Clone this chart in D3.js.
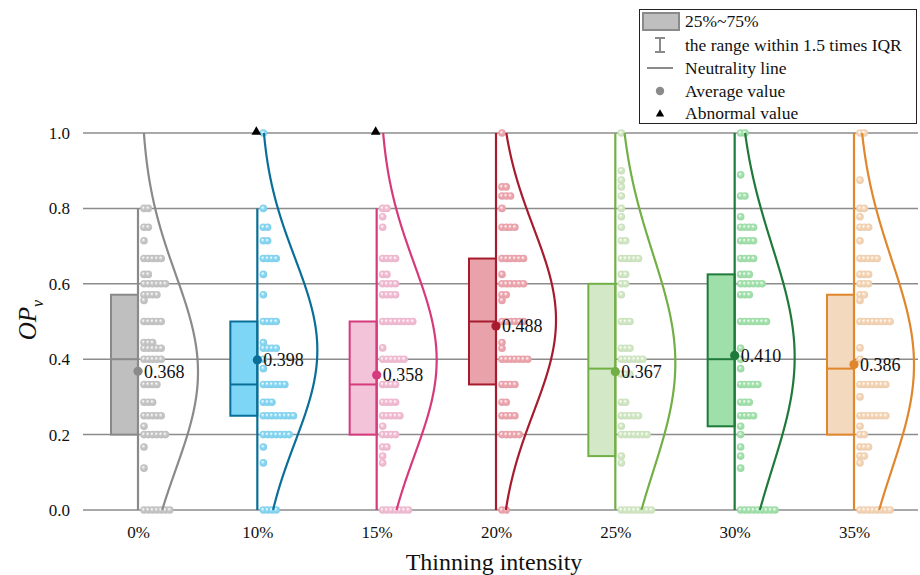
<!DOCTYPE html>
<html>
<head>
<meta charset="utf-8">
<script src="https://cdn.jsdelivr.net/npm/d3@7"></script>
<style>
  html, body { margin: 0; padding: 0; background: #fff; }
  svg, svg text { font-family: "Liberation Serif", "Times New Roman", serif !important; }
</style>
</head>
<body>
<svg id="chart" width="920" height="575"></svg>
<script>
// Thinning intensity groups
const categories = ['0%', '10%', '15%', '20%', '25%', '30%', '35%'];

// Box statistics per group
const means      = [0.368, 0.398, 0.358, 0.488, 0.367, 0.410, 0.386];
const q1         = [0.200, 0.250, 0.200, 0.333, 0.143, 0.222, 0.200];
const medians    = [0.400, 0.333, 0.333, 0.500, 0.375, 0.400, 0.375];
const q3         = [0.571, 0.500, 0.500, 0.667, 0.600, 0.625, 0.571];
const whiskerLow = [0, 0, 0, 0, 0, 0, 0];
const whiskerHigh = [0.8, 0.8, 0.8, 1.0, 1.0, 1.0, 1.0];
const outliers   = [[], [1.0], [1.0], [], [], [], []];

// Normal fit parameters for the distribution curves
const fitMu    = [0.366, 0.424, 0.398, 0.504, 0.390, 0.405, 0.385];
const fitSigma = [0.260, 0.245, 0.255, 0.245, 0.290, 0.295, 0.280];

// Observed OPv values per group as [value, count]
const observations = [
  [[0.8,2],[0.75,2],[0.714,1],[0.667,5],[0.625,2],[0.6,6],[0.571,4],[0.556,1],[0.5,5],[0.444,3],[0.429,5],[0.4,5],[0.333,4],[0.286,3],[0.25,5],[0.222,1],[0.2,6],[0.167,1],[0.111,1],[0,7]],
  [[1.0,1],[0.8,1],[0.75,2],[0.714,2],[0.667,4],[0.625,1],[0.571,1],[0.5,4],[0.444,1],[0.429,4],[0.4,1],[0.375,1],[0.333,6],[0.286,3],[0.25,8],[0.2,7],[0.167,1],[0.125,1],[0,4]],
  [[0.8,2],[0.778,1],[0.75,1],[0.667,4],[0.625,2],[0.6,4],[0.571,4],[0.5,8],[0.43,1],[0.4,6],[0.333,4],[0.286,4],[0.25,5],[0.222,1],[0.2,4],[0.167,2],[0.143,1],[0.125,1],[0,7]],
  [[1.0,1],[0.857,2],[0.833,3],[0.8,1],[0.75,4],[0.667,6],[0.625,1],[0.6,6],[0.571,2],[0.556,1],[0.5,6],[0.444,1],[0.429,1],[0.4,7],[0.333,4],[0.286,2],[0.25,4],[0.2,5],[0,2]],
  [[1.0,1],[0.9,1],[0.875,1],[0.857,1],[0.833,1],[0.8,1],[0.778,1],[0.75,1],[0.714,2],[0.667,5],[0.625,2],[0.6,2],[0.571,1],[0.5,3],[0.429,3],[0.4,6],[0.36,3],[0.286,2],[0.25,5],[0.222,1],[0.2,7],[0.143,1],[0.125,1],[0,8]],
  [[1.0,2],[0.889,1],[0.833,2],[0.778,1],[0.75,4],[0.714,4],[0.667,4],[0.625,3],[0.6,6],[0.571,3],[0.5,7],[0.429,1],[0.4,1],[0.375,1],[0.333,5],[0.286,3],[0.25,4],[0.222,1],[0.2,1],[0.167,1],[0.143,1],[0.111,1],[0,9]],
  [[1.0,2],[0.875,1],[0.8,2],[0.778,1],[0.75,3],[0.714,1],[0.667,5],[0.625,3],[0.6,3],[0.571,2],[0.556,1],[0.5,8],[0.43,1],[0.4,1],[0.333,7],[0.3,1],[0.25,7],[0.222,1],[0.2,2],[0.167,3],[0.143,2],[0.125,1],[0,8]]
];

// Colours: outline / box fill / point fill
const strokeColors = ['#8a8a8a', '#0a6f98', '#d63a7c', '#a61c2e', '#72b046', '#1f7a3a', '#e0862c'];
const fillColors   = ['#bfbfbf', '#7dd6f6', '#f3c3da', '#e9a2aa', '#d3e8c6', '#9fe0aa', '#f3d9bd'];
const pointColors  = ['#c6c6c6', '#86d7f4', '#f3bdd4', '#eea6ae', '#d2e8c4', '#a2e2ac', '#f5d5b5'];

const yTicks = [0, 0.2, 0.4, 0.6, 0.8, 1.0];
const legendLabels = ['25%~75%', 'the range within 1.5 times IQR', 'Neutrality line', 'Average value', 'Abnormal value'];

const serif = '"Liberation Serif", "Times New Roman", serif';
const svg = d3.select('#chart');
const plotLeft = 83, plotRight = 918, plotTop = 133, plotBottom = 510;

const y = d3.scaleLinear().domain([0, 1]).range([plotBottom, plotTop]);
const x = d3.scalePoint().domain(categories).range([138, 854]);

// gradients for the shaded points
const defs = svg.append('defs');
pointColors.forEach((c, i) => {
  const g = defs.append('radialGradient').attr('id', 'pt' + i)
    .attr('cx', '50%').attr('cy', '50%').attr('r', '55%').attr('fx', '38%').attr('fy', '35%');
  g.append('stop').attr('offset', '0%').attr('stop-color', '#ffffff');
  g.append('stop').attr('offset', '45%').attr('stop-color', c);
  g.append('stop').attr('offset', '100%').attr('stop-color', d3.color(c).darker(0.15));
});

// horizontal grid
svg.append('g').selectAll('line').data(yTicks).join('line')
  .attr('x1', plotLeft).attr('x2', plotRight)
  .attr('y1', d => y(d)).attr('y2', d => y(d))
  .attr('stroke', '#8c8c8c').attr('stroke-width', 1.5);

// y axis labels
const yAxis = d3.axisLeft(y).tickValues(yTicks).tickFormat(d3.format('.1f')).tickSize(0).tickPadding(0);
const yg = svg.append('g').attr('transform', 'translate(70,0)').call(yAxis);
yg.attr('font-family', serif).attr('font-size', 17);
yg.select('.domain').remove();
yg.selectAll('text').attr('fill', '#111').style('font-family', serif);

// x axis labels
const xAxis = d3.axisBottom(x).tickSize(0).tickPadding(0);
const xg = svg.append('g').attr('transform', 'translate(0,' + (plotBottom + 16) + ')').call(xAxis);
xg.attr('font-family', serif).attr('font-size', 17);
xg.select('.domain').remove();
xg.selectAll('text').attr('fill', '#111').attr('dy', '0.71em').style('font-family', serif);

// axis titles
svg.append('text').attr('x', 494).attr('y', 570).attr('text-anchor', 'middle')
  .attr('font-size', 24).attr('fill', '#111').text('Thinning intensity');
const yt = svg.append('text').attr('transform', 'translate(36,' + 320 + ') rotate(-90)')
  .attr('text-anchor', 'middle').attr('font-size', 25).attr('font-style', 'italic').attr('fill', '#111');
yt.append('tspan').text('OP');
yt.append('tspan').attr('font-size', 16).attr('dy', 7).text('v');

const boxW = 27;
const dotStep = 4.3;
const curveW = 57, curveOff = 3;

categories.forEach((cat, i) => {
  const cx = x(cat);
  const g = svg.append('g');

  // observed points, stacked to the right of the centre line
  const pts = [];
  observations[i].forEach(([v, n]) => {
    for (let k = 0; k < n; k++) pts.push({ v, k });
  });
  g.append('g').selectAll('circle').data(pts).join('circle')
    .attr('cx', d => cx + 6 + d.k * dotStep)
    .attr('cy', d => y(d.v))
    .attr('r', 3.8)
    .attr('fill', 'url(#pt' + i + ')');

  // fitted normal curve
  const vals = d3.range(0, 1.0001, 0.005);
  const line = d3.line()
    .x(v => cx + curveOff + curveW * Math.exp(-0.5 * Math.pow((v - fitMu[i]) / fitSigma[i], 2)))
    .y(v => y(v))
    .curve(d3.curveBasis);
  g.append('path').datum(vals).attr('d', line)
    .attr('fill', 'none').attr('stroke', strokeColors[i]).attr('stroke-width', 2.2);

  // box
  g.append('rect')
    .attr('x', cx - boxW).attr('y', y(q3[i]))
    .attr('width', boxW).attr('height', y(q1[i]) - y(q3[i]))
    .attr('fill', fillColors[i]).attr('stroke', strokeColors[i]).attr('stroke-width', 2);
  g.append('line')
    .attr('x1', cx - boxW).attr('x2', cx)
    .attr('y1', y(medians[i])).attr('y2', y(medians[i]))
    .attr('stroke', strokeColors[i]).attr('stroke-width', 2);

  // whisker
  g.append('line')
    .attr('x1', cx).attr('x2', cx)
    .attr('y1', y(whiskerHigh[i])).attr('y2', y(whiskerLow[i]))
    .attr('stroke', strokeColors[i]).attr('stroke-width', 2.2);

  // outliers
  g.selectAll('path.out').data(outliers[i]).join('path').attr('class', 'out')
    .attr('d', d3.symbol(d3.symbolTriangle, 42))
    .attr('transform', v => 'translate(' + (cx - 1) + ',' + (y(v) - 1) + ')')
    .attr('fill', '#000');

  // mean marker and label
  g.append('circle').attr('cx', cx).attr('cy', y(means[i])).attr('r', 4.6)
    .attr('fill', strokeColors[i]);
  g.append('text').attr('x', cx + 6).attr('y', y(means[i])).attr('dy', '0.35em')
    .attr('font-size', 18).attr('fill', '#111').text(d3.format('.3f')(means[i]));
});

// legend
const lg = svg.append('g');
lg.append('rect').attr('x', 639.5).attr('y', 9.5).attr('width', 277).attr('height', 114)
  .attr('fill', '#fff').attr('stroke', '#222').attr('stroke-width', 1);
const rowY = [21, 45, 68, 91, 113];
lg.append('rect').attr('x', 643).attr('y', 13).attr('width', 36).attr('height', 17)
  .attr('fill', '#bfbfbf').attr('stroke', '#8a8a8a').attr('stroke-width', 2);
lg.append('path').attr('d', 'M655,38H665M660,38V52M655,52H665')
  .attr('stroke', '#8a8a8a').attr('stroke-width', 2).attr('fill', 'none');
lg.append('line').attr('x1', 647).attr('x2', 673).attr('y1', rowY[2]).attr('y2', rowY[2])
  .attr('stroke', '#8a8a8a').attr('stroke-width', 2);
lg.append('circle').attr('cx', 660).attr('cy', rowY[3]).attr('r', 4.2).attr('fill', '#8a8a8a');
lg.append('path').attr('d', d3.symbol(d3.symbolTriangle, 30))
  .attr('transform', 'translate(660,' + (rowY[4] + 1) + ')').attr('fill', '#000');
lg.selectAll('text.lab').data(legendLabels).join('text').attr('class', 'lab')
  .attr('x', 685).attr('y', (d, k) => rowY[k]).attr('dy', '0.35em')
  .attr('font-size', 17.5).attr('fill', '#111').text(d => d);
</script>
</body>
</html>
